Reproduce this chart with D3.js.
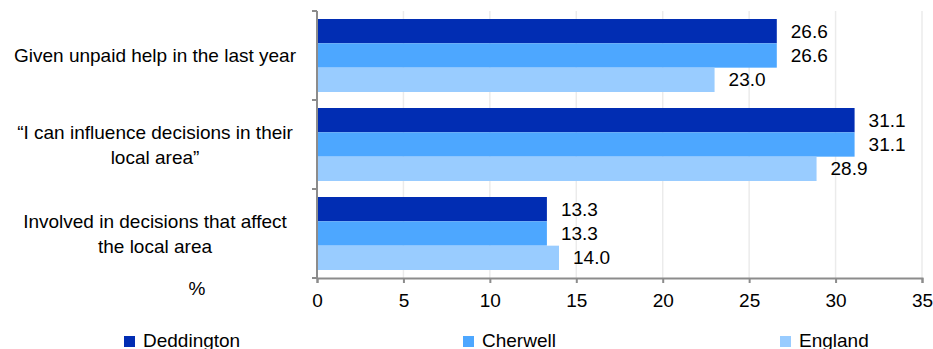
<!DOCTYPE html>
<html>
<head>
<meta charset="utf-8">
<script src="https://cdn.jsdelivr.net/npm/d3@7"></script>
<style>
  body { margin: 0; background: #fff; }
  text { font-family: "Liberation Sans", Arial, sans-serif; fill: #000; }
</style>
</head>
<body>
<svg width="933" height="349"></svg>
<script>
const categories = [
  ['Given unpaid help in the last year'],
  ['\u201cI can influence decisions in their', 'local area\u201d'],
  ['Involved in decisions that affect', 'the local area']
];
const seriesNames = ['Deddington', 'Cherwell', 'England'];
const deddington = [26.6, 31.1, 13.3];
const cherwell = [26.6, 31.1, 13.3];
const england = [23.0, 28.9, 14.0];
const xTicks = [0, 5, 10, 15, 20, 25, 30, 35];
const colors = ['#012db3', '#4da7ff', '#99ccff'];

const svg = d3.select('svg');
const margin = { top: 11, left: 317, right: 11, bottom: 71 };
const width = +svg.attr('width');
const height = +svg.attr('height');
const innerWidth = width - margin.left - margin.right;
const innerHeight = height - margin.top - margin.bottom;
const fs = '19px';

const values = [deddington, cherwell, england];
const data = categories.map((c, i) => ({
  idx: i,
  label: c,
  vals: seriesNames.map((s, j) => ({ series: s, j, v: values[j][i] }))
}));

const xScale = d3.scaleLinear().domain([0, 35]).range([0, innerWidth]);
const yScale = d3.scaleBand().domain(d3.range(categories.length)).range([0, innerHeight]);
const inner = d3.scaleBand().domain(d3.range(seriesNames.length))
  .range([8, yScale.bandwidth() - 8]);

const g = svg.append('g').attr('transform', `translate(${margin.left},${margin.top})`);

// gridlines
g.selectAll('.grid').data(xTicks.slice(1)).enter().append('line')
  .attr('x1', d => xScale(d)).attr('x2', d => xScale(d))
  .attr('y1', 0).attr('y2', innerHeight)
  .attr('stroke', '#ebebeb').attr('stroke-width', 1.5);

// bars
const groups = g.selectAll('.grp').data(data).enter().append('g')
  .attr('transform', d => `translate(0,${yScale(d.idx)})`);

groups.selectAll('rect').data(d => d.vals).enter().append('rect')
  .attr('x', 0)
  .attr('y', d => inner(d.j))
  .attr('width', d => xScale(d.v))
  .attr('height', inner.bandwidth())
  .attr('fill', d => colors[d.j]);

groups.selectAll('.val').data(d => d.vals).enter().append('text')
  .attr('x', d => xScale(d.v) + 14)
  .attr('y', d => inner(d.j) + inner.bandwidth() / 2)
  .attr('dy', '0.35em')
  .style('font-size', fs)
  .text(d => d.v.toFixed(1));

// x axis
const xAxis = d3.axisBottom(xScale).tickValues(xTicks).tickSize(5).tickPadding(11);
const xAxisG = g.append('g').attr('transform', `translate(0,${innerHeight})`).call(xAxis);
xAxisG.select('.domain').attr('stroke', '#8c8c8c').attr('stroke-width', 2);
xAxisG.selectAll('.tick line').attr('stroke', '#8c8c8c').attr('stroke-width', 2);
xAxisG.selectAll('.tick text').style('font-size', fs)
  .style('font-family', '"Liberation Sans", Arial, sans-serif').attr('fill', '#000');

// y axis line + boundary ticks
g.append('line').attr('x1', 0).attr('x2', 0).attr('y1', 0).attr('y2', innerHeight)
  .attr('stroke', '#8c8c8c').attr('stroke-width', 2);
g.selectAll('.ytick').data(d3.range(categories.length + 1)).enter().append('line')
  .attr('x1', -5).attr('x2', 0)
  .attr('y1', d => d * yScale.step())
  .attr('y2', d => d * yScale.step())
  .attr('stroke', '#8c8c8c').attr('stroke-width', 2);

// category labels
const catLabels = svg.selectAll('.cat').data(data).enter().append('text')
  .attr('text-anchor', 'middle')
  .attr('x', 155)
  .attr('y', d => margin.top + yScale(d.idx) + yScale.bandwidth() / 2 - (d.label.length - 1) * 12.5)
  .style('font-size', fs);
catLabels.selectAll('tspan').data(d => d.label).enter().append('tspan')
  .attr('x', 155)
  .attr('dy', (d, i) => i === 0 ? '0.35em' : '25')
  .text(d => d);

// unit label
svg.append('text').attr('x', 197).attr('y', 295).attr('text-anchor', 'middle')
  .style('font-size', fs).text('%');

// legend
const legendX = [124, 463, 780];
const legend = svg.selectAll('.leg').data(seriesNames).enter().append('g')
  .attr('transform', (d, i) => `translate(${legendX[i]},336)`);
legend.append('rect').attr('width', 11).attr('height', 11).attr('fill', (d, i) => colors[i]);
legend.append('text').attr('x', 19).attr('y', 11).style('font-size', fs).text(d => d);
</script>
</body>
</html>
